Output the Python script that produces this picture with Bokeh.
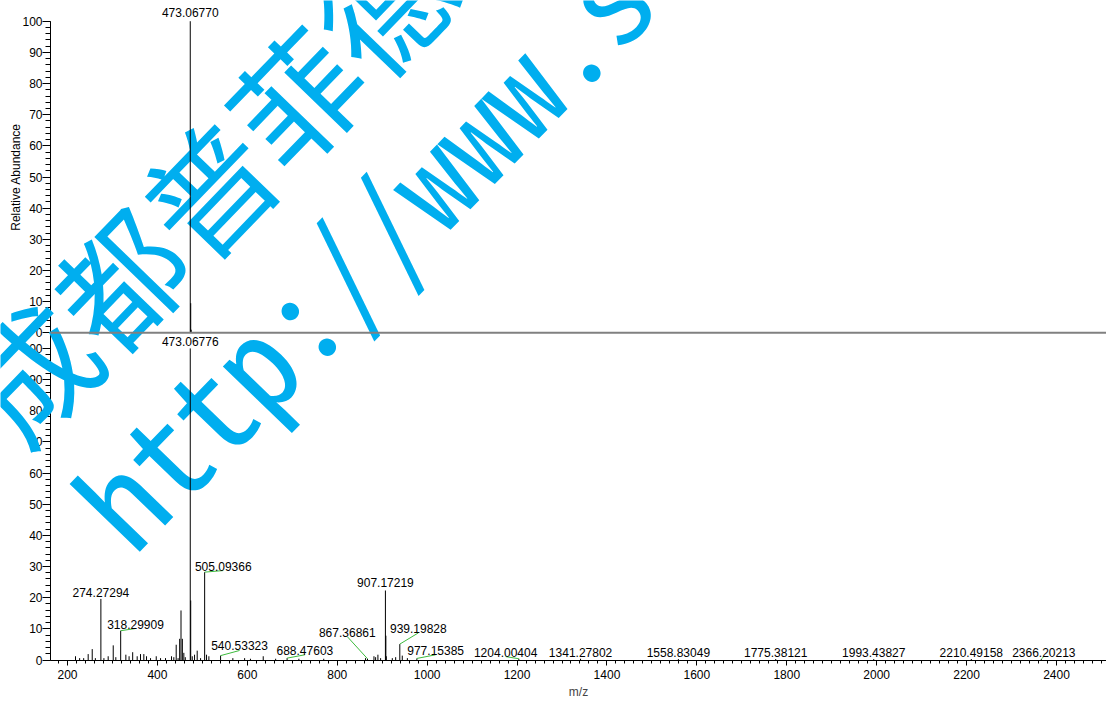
from bokeh.plotting import figure
from bokeh.models import (Label, FixedTicker, SingleIntervalTicker,
                          CustomJSTickFormatter, Range1d)
from bokeh.embed import file_html
from bokeh.resources import INLINE

# ---------------- data ----------------
# upper spectrum (reference)
top_mz = [473.0677, 474.0710, 475.0700]
top_int = [100.0, 9.5, 1.0]

# lower spectrum (sample)
bot_mz = [217.8, 227.0, 236.0, 246.0, 255.0, 262.0, 274.27294, 281.0, 290.5,
          301.7, 307.5, 318.29909, 329.8, 337.0, 345.0, 355.0, 362.4, 369.8,
          375.8, 384.7, 397.4, 407.0, 418.0, 431.4, 436.5, 441.8, 446.0, 449.5,
          452.5, 455.5, 458.8, 462.0, 473.06776, 474.0710, 477.5, 482.6, 488.5,
          496.0, 505.09366, 509.3, 514.5, 540.53323, 567.8, 594.0, 607.0, 635.4,
          663.0, 688.47603, 714.7, 770.0, 863.0, 867.36861, 881.7, 885.4, 890.5,
          896.5, 907.17219, 908.1750, 909.1780, 922.5, 930.0, 939.19828, 944.7,
          956.0, 977.15385, 1204.00404, 1341.27802, 1558.83049, 1775.38121,
          1993.43827, 2210.49158, 2366.20213]
bot_int = [1.2, 0.6, 0.6, 1.9, 3.5, 0.6, 19.6, 0.6, 1.2,
           4.7, 0.9, 9.4, 1.7, 1.2, 2.5, 1.2, 1.9, 1.9,
           1.2, 0.6, 1.2, 0.6, 0.6, 1.2, 0.9, 4.9, 0.6, 6.8,
           15.9, 6.8, 2.3, 0.9, 100.0, 19.1, 1.2, 1.7, 3.0,
           0.6, 28.2, 1.7, 1.2, 1.4, 0.6, 0.6, 0.4, 1.2,
           0.4, 0.6, 0.4, 0.4, 0.6, 0.4, 1.2, 0.9, 1.7,
           0.6, 22.3, 7.8, 1.2, 0.6, 0.9, 5.1, 1.4,
           0.6, 0.5, 0.4, 0.4, 0.3, 0.3,
           0.3, 0.3, 0.3]

# peak annotations
lab_text = ["473.06770", "473.06776", "274.27294", "318.29909", "505.09366",
            "540.53323", "688.47603", "867.36861", "907.17219", "939.19828",
            "977.15385", "1204.00404", "1341.27802", "1558.83049", "1775.38121",
            "1993.43827", "2210.49158", "2366.20213"]
lab_panel = ["top"] + ["bottom"] * 17
lab_peak_mz = [473.0677, 473.06776, 274.27294, 318.29909, 505.09366, 540.53323,
               688.47603, 867.36861, 907.17219, 939.19828, 977.15385, 1204.00404,
               1341.27802, 1558.83049, 1775.38121, 1993.43827, 2210.49158,
               2366.20213]
lab_peak_int = [100.0, 100.0, 19.6, 9.4, 28.2, 1.4, 0.6, 0.4, 22.3, 5.1, 0.5,
                0.4, 0.4, 0.3, 0.3, 0.3, 0.3, 0.3]
lab_x = [473.07, 473.07, 274.27, 351.3, 546.5, 582.7, 728.0, 822.4, 907.17,
         980.4, 1018.9, 1174.6, 1341.28, 1558.83, 1775.38, 1993.44, 2210.49,
         2371.8]
lab_y = [101.4, 100.9, 20.2, 10.1, 28.7, 3.05, 1.67, 7.5, 23.4, 8.7, 1.67, 1.1,
         1.1, 1.1, 1.1, 1.1, 1.1, 1.1]
lab_leader = [False, False, False, True, True, True, True, True, False, True,
              True, True, False, False, False, False, False, True]

y_major = [0, 10, 20, 30, 40, 50, 60, 70, 80, 90, 100]
x_tick_interval = 200

# ---------------- layout ----------------
W, H = 1106, 702
X_AX = 162.2            # m/z where the y axis sits
PXU = 0.44955           # pixels per m/z unit
XS = 200 - 67 / PXU     # m/z at the left canvas edge
XE = XS + W / PXU
PYU = 3.116             # pixels per % abundance
Y0_PX = 659.5           # canvas row of the lower baseline
YS = -(H - Y0_PX) / PYU
YE = Y0_PX / PYU
OFF = 105.0             # vertical offset of the upper panel
FONT = "Liberation Sans"
TEXT_RAISE = 4.5 / PYU  # lift of label text above its anchor


def px(ax, ay):
    """canvas pixel -> data coordinates (decoration only)"""
    return XS + ax / PXU, (Y0_PX - ay) / PYU


p = figure(width=W, height=H, output_backend="svg", toolbar_location=None,
           x_range=Range1d(XS, XE), y_range=Range1d(YS, YE),
           min_border_left=0, min_border_right=0, min_border_top=0,
           min_border_bottom=0)
p.xgrid.visible = False
p.ygrid.visible = False
p.outline_line_color = None

# x axis
xa = p.xaxis[0]
xa.fixed_location = 0
xa.bounds = (X_AX, XE)
xa.ticker = SingleIntervalTicker(interval=x_tick_interval, num_minor_ticks=10)
xa.axis_label = "m/z"
xa.axis_label_text_font = FONT
xa.axis_label_text_font_size = "12px"
xa.axis_label_text_font_style = "normal"
xa.axis_label_standoff = 2
xa.major_label_text_font = FONT
xa.major_label_text_font_size = "12px"
xa.major_label_text_color = "black"
xa.major_label_standoff = 5
xa.major_tick_in = 0
xa.major_tick_out = 5
xa.minor_tick_in = 0
xa.minor_tick_out = 3
xa.axis_line_color = "black"
xa.major_tick_line_color = "black"
xa.minor_tick_line_color = "black"

# y axis (two panels on one axis)
ya = p.yaxis[0]
ya.fixed_location = X_AX
ya.bounds = (0, OFF + 100)
majors = y_major + [OFF + v for v in y_major]
minors = [float(v) for v in range(0, 101, 2)] + [OFF + v for v in range(0, 101, 2)]
ya.ticker = FixedTicker(ticks=majors, minor_ticks=minors)
ya.formatter = CustomJSTickFormatter(args=dict(off=OFF), code="""
    var v = tick >= off - 0.01 ? tick - off : tick;
    return Math.round(v).toString();
""")
ya.axis_label = None
ya.major_label_text_font = FONT
ya.major_label_text_font_size = "12px"
ya.major_label_text_color = "black"
ya.major_label_standoff = 0
ya.major_tick_in = 0
ya.major_tick_out = 8
ya.minor_tick_in = 0
ya.minor_tick_out = 5
ya.axis_line_color = "black"
ya.major_tick_line_color = "black"
ya.minor_tick_line_color = "black"

# ---------------- watermark ----------------
wm_color = "#00AEEF"
cx, cy = px(-15.5, 414)
p.add_layout(Label(x=cx, y=cy, text="成都普菲德", angle=46, angle_units="deg",
                   text_font="Noto Sans CJK SC", text_font_size="127px",
                   text_color=wm_color, text_align="left",
                   text_baseline="alphabetic"))
ux, uy = px(94, 519)
p.add_layout(Label(x=ux, y=uy, text="http://www.s", angle=46, angle_units="deg",
                   text_font="Noto Sans Mono CJK SC", text_font_size="127px",
                   text_color=wm_color, text_align="left",
                   text_baseline="alphabetic"))

# ---------------- spectra ----------------
r1 = p.segment(x0=top_mz, y0=[OFF] * len(top_mz), x1=top_mz,
               y1=[OFF + v for v in top_int], line_color="black", line_width=1)
r1.level = "overlay"
r2 = p.segment(x0=bot_mz, y0=[0] * len(bot_mz), x1=bot_mz, y1=bot_int,
               line_color="black", line_width=1)
r2.level = "overlay"

# baseline of the upper panel
r0 = p.segment(x0=[X_AX], y0=[OFF], x1=[XE], y1=[OFF], line_color="#808080",
               line_width=2)
r0.level = "overlay"

# leader lines
lx0, ly0, lx1, ly1 = [], [], [], []
for i in range(len(lab_text)):
    if lab_leader[i]:
        b = OFF if lab_panel[i] == "top" else 0.0
        lx0.append(lab_peak_mz[i]); ly0.append(b + lab_peak_int[i])
        lx1.append(lab_x[i]); ly1.append(b + lab_y[i])
r3 = p.segment(x0=lx0, y0=ly0, x1=lx1, y1=ly1, line_color="#3dbb3d", line_width=1)
r3.level = "overlay"

for i in range(len(lab_text)):
    b = OFF if lab_panel[i] == "top" else 0.0
    p.add_layout(Label(x=lab_x[i], y=b + lab_y[i] + TEXT_RAISE, text=lab_text[i],
                       text_font=FONT, text_font_size="12px", text_color="black",
                       text_align="center", text_baseline="alphabetic",
                       level="overlay"))

# y axis title, centred on the upper panel
tx, _ = px(15, 176)
p.add_layout(Label(x=tx, y=OFF + 50, text="Relative Abundance", angle=90,
                   angle_units="deg", text_font=FONT, text_font_size="12px",
                   text_color="black", text_align="center",
                   text_baseline="middle"))

open("out.html", "w").write(file_html(p, INLINE))
